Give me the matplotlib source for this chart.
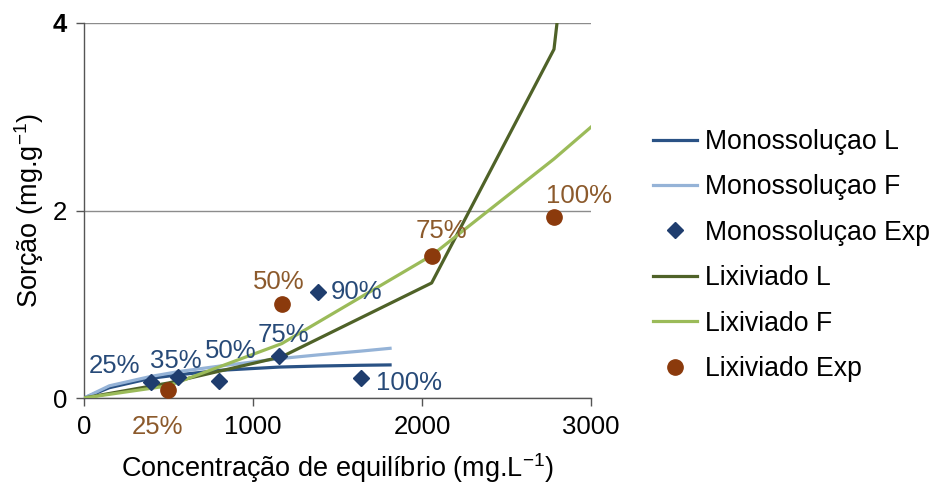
import matplotlib
matplotlib.use("Agg")
import matplotlib.pyplot as plt

plt.rcParams['font.family'] = ['Liberation Sans', 'DejaVu Sans']
plt.rcParams['mathtext.fontset'] = 'custom'
plt.rcParams['mathtext.rm'] = 'Liberation Sans'
plt.rcParams['mathtext.it'] = 'Liberation Sans'
plt.rcParams['mathtext.bf'] = 'Liberation Sans:bold'

# Data
mono_exp_x = [395, 554, 801, 1156, 1386, 1637]
mono_exp_y = [0.174, 0.228, 0.185, 0.449, 1.126, 0.217]
mono_exp_lbl = ['25%', '35%', '50%', '75%', '90%', '100%']

lix_exp_x = [499, 1170, 2057, 2781]
lix_exp_y = [0.086, 1.005, 1.51, 1.93]
lix_exp_lbl = ['25%', '50%', '75%', '100%']

mono_L_x = [0, 150, 395, 554, 801, 1156, 1386, 1637, 1811]
mono_L_y = [0, 0.11, 0.21, 0.246, 0.295, 0.33, 0.341, 0.349, 0.353]
mono_F_x = [0, 150, 395, 554, 801, 1156, 1386, 1637, 1811]
mono_F_y = [0, 0.13, 0.23, 0.28, 0.34, 0.42, 0.46, 0.50, 0.53]

lix_L_x = [0, 499, 1170, 2057, 2781, 2850]
lix_L_y = [0, 0.16, 0.44, 1.227, 3.72, 4.8]
lix_F_x = [0, 499, 1170, 2057, 2781, 3000]
lix_F_y = [0, 0.13, 0.58, 1.52, 2.55, 2.89]

x_ticks = [0, 1000, 2000, 3000]
y_ticks = [0, 2, 4]

c_monoL = '#2A5285'
c_monoF = '#95B3D7'
c_monoE = '#1F3D6E'
c_lixL = '#4F6228'
c_lixF = '#9BBB59'
c_lixE = '#8B3A0C'
c_lbl_mono = '#274A78'
c_lbl_lix = '#8C5A2C'

fig = plt.figure(figsize=(9.38, 4.84), dpi=100)
ax = fig.add_axes([84/938, 86/484, (591-84)/938, (398-23)/484])

ax.plot(mono_L_x, mono_L_y, color=c_monoL, lw=2.3, label='Monossoluçao L', zorder=3)
ax.plot(mono_F_x, mono_F_y, color=c_monoF, lw=2.3, label='Monossoluçao F', zorder=3)
ax.plot(mono_exp_x, mono_exp_y, ls='none', marker='D', ms=8, color=c_monoE,
        label='Monossoluçao Exp', zorder=5)
ax.plot(lix_L_x, lix_L_y, color=c_lixL, lw=2.3, label='Lixiviado L', zorder=3)
ax.plot(lix_F_x, lix_F_y, color=c_lixF, lw=2.3, label='Lixiviado F', zorder=3)
ax.plot(lix_exp_x, lix_exp_y, ls='none', marker='o', ms=11, color=c_lixE,
        label='Lixiviado Exp', zorder=5)

fs_lbl = 18.5
mono_off = [(-26, 11, 'center'), (-1, 11.5, 'center'), (8, 21, 'center'),
            (3, 15, 'center'), (9, 0, 'left'), (11, -4, 'left')]
for x, y, t, (dx, dy, ha) in zip(mono_exp_x, mono_exp_y, mono_exp_lbl, mono_off):
    ax.annotate(t, (x, y), xytext=(dx, dy), textcoords='offset points',
                ha=ha, va='center', fontsize=fs_lbl, color=c_lbl_mono, zorder=6,
                annotation_clip=False)
lix_off = [(-8, -26.5), (-2, 16), (7, 18), (18, 15)]
for x, y, t, (dx, dy) in zip(lix_exp_x, lix_exp_y, lix_exp_lbl, lix_off):
    ax.annotate(t, (x, y), xytext=(dx, dy), textcoords='offset points',
                ha='center', va='center', fontsize=fs_lbl, color=c_lbl_lix, zorder=6,
                annotation_clip=False)

ax.set_xlim(0, 3000)
ax.set_ylim(0, 4)
ax.set_xticks(x_ticks)
ax.set_yticks(y_ticks)
ax.set_xticklabels([str(v) for v in x_ticks], fontsize=18.5)
ax.set_yticklabels([str(v) for v in y_ticks], fontsize=18.5)
ax.get_yticklabels()[-1].set_fontweight('bold')
ax.tick_params(direction='out', length=6, width=1, color='#555555', pad=6)
ax.yaxis.grid(True, color='#8C8C8C', lw=1)
ax.set_axisbelow(True)
for s in ['top', 'right']:
    ax.spines[s].set_visible(False)
for s in ['left', 'bottom']:
    ax.spines[s].set_color('#555555')
    ax.spines[s].set_linewidth(1)

ax.set_xlabel('Concentração de equilíbrio (mg.L$^{\\mathregular{-1}}$)', fontsize=19.5, labelpad=9)
ax.set_ylabel('Sorção (mg.g$^{\\mathregular{-1}}$)', fontsize=19.5, labelpad=5)

fig.legend(loc='center left', bbox_to_anchor=(653/938, 0.472), frameon=False,
           fontsize=19.2, borderpad=0, borderaxespad=0, handlelength=1.65,
           handletextpad=0.3, labelspacing=0.73)

fig.savefig('out.png', dpi=100)
